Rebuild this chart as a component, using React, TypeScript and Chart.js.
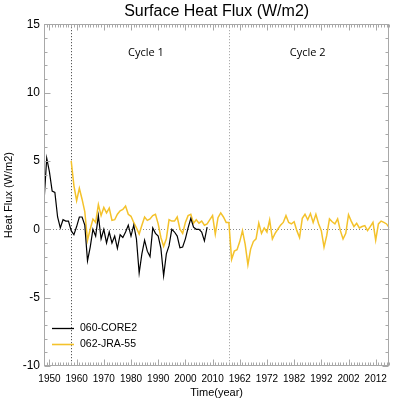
import React, { useEffect, useRef } from 'react';
import { Chart, registerables } from 'chart.js';

Chart.register(...registerables);

// ---- data (annual means, W/m2) ----
const core2StartYear = 1948;
const core2Values = [
  2.0, 5.2, 4.2, 2.8, 2.7, 0.9, 0.1, 0.7, 0.6, 0.6,
  -0.1, -0.4, 0.2, 0.9, 0.9, 0.3, -2.3, -1.3, 0.0, -0.5,
  1.0, -0.7, 0.0, -1.0, -0.2, -1.0, -0.5, -1.4, -0.4, -0.6,
  -0.2, 0.3, -0.5, 0.3, -0.7, -3.2, -1.8, -0.8, -1.6, -2.0,
  0.1, -0.3, -0.5, -1.4, -3.4, -1.8, -1.2, 0.0, -0.2, -0.5,
  -1.35, -1.3, -0.7, 0.1, 0.8, 0.15, 0.0, 0.0, -0.2, -0.85, 0.15,
];

const jraCycle1StartYear = 1958;
const jraCycle1Values = [
  5.0, 3.2, 2.1, 3.0, 2.2, 1.3, -0.8, 0.0, 0.75, 0.5,
  1.8, 1.0, 1.6, 1.2, 1.55, 0.65, 0.7, 1.1, 1.35, 1.45,
  1.7, 1.1, 0.95, 0.5, 0.1, -0.35, 0.3, 0.9, 0.65, 0.75,
  1.0, 1.1, 0.4, -0.6, -1.25, -0.7, 0.7, 0.6, 0.6, 0.9,
  0.0, -0.3, 0.5, 1.0, 1.1, 0.45, 0.7, 0.45, 0.6, 0.3,
  0.4, 0.7, 1.0, -0.35, 0.85, 1.2, 0.9, 0.5, 0.5,
];

// second forcing cycle, placed after cycle 1 on the continuous time axis
const jraCycle2StartYear = 2017;
const jraCycle2Values = [
  -2.2, -1.6, -1.5, -0.9, -0.1, -1.1, -2.6, -1.45, -0.9, -0.7,
  0.45, -0.3, 0.1, -0.2, 0.68, -0.71, -0.3, 0.0, 0.3, 0.5,
  1.0, 0.5, 0.4, 0.55, -0.1, -0.6, 0.8, 1.1, 0.7, 1.15,
  0.5, 1.1, 0.4, -0.1, -1.3, -0.45, 0.76, 0.55, 0.4, 0.76,
  -0.1, -0.71, -0.3, 1.07, 0.6, 0.2, 0.44, 0.1, 0.2, 0.27,
  -0.1, 0.2, 0.51, -0.8, 0.39, 0.6, 0.5, 0.39, 0.1,
];

const seriesNames = ['060-CORE2', '062-JRA-55'];
const seriesColors = ['#000000', '#F4C22B'];

const cycleStartYears = [1958, 2016];
const cycleLabels = ['Cycle 1', 'Cycle 2'];
const cycleLabelYears = [1985.5, 2045];
const cycleLabelValue = 12.9;

const xMin = 1948;
const xMax = 2075;
const xTickValues = [1950, 1960, 1970, 1980, 1990, 2000, 2010, 2020, 2030, 2040, 2050, 2060, 2070];
const xTickLabels = ['1950', '1960', '1970', '1980', '1990', '2000', '2010', '1962', '1972', '1982', '1992', '2002', '2012'];
const yMin = -10;
const yMax = 15;
const yStep = 5;

const FONT = '"Liberation Sans", Arial, Helvetica, sans-serif';

const toPoints = (start: number, vals: number[]) => vals.map((v, i) => ({ x: start + i, y: v }));

const decorPlugin = {
  id: 'decor',
  beforeDatasetsDraw(chart: any) {
    const { ctx, chartArea: a, scales } = chart;
    const x = scales.x;
    const y = scales.y;
    ctx.save();
    ctx.lineWidth = 1;
    // zero line
    ctx.strokeStyle = '#8a8a8a';
    ctx.setLineDash([1, 2]);
    const y0 = Math.round(y.getPixelForValue(0)) + 0.5;
    ctx.beginPath();
    ctx.moveTo(a.left, y0);
    ctx.lineTo(a.right, y0);
    ctx.stroke();
    // cycle boundaries
    cycleStartYears.forEach((yr, i) => {
      const px = Math.round(x.getPixelForValue(yr)) + 0.5;
      ctx.strokeStyle = i === 0 ? '#333333' : '#9a9a9a';
      ctx.setLineDash([1, 2]);
      ctx.beginPath();
      ctx.moveTo(px, a.top);
      ctx.lineTo(px, a.bottom);
      ctx.stroke();
    });
    ctx.restore();
  },
  afterDraw(chart: any) {
    const { ctx, chartArea: a, scales } = chart;
    const x = scales.x;
    const y = scales.y;
    ctx.save();
    ctx.lineWidth = 1;
    ctx.setLineDash([]);
    ctx.strokeStyle = '#a8a8a8';
    const L = Math.round(a.left) + 0.5;
    const R = Math.round(a.right) - 0.5;
    const T = Math.round(a.top) + 0.5;
    const B = Math.round(a.bottom) - 0.5;
    ctx.strokeRect(L, T, R - L, B - T);
    ctx.beginPath();
    // x ticks (every year minor, every 10 major) top & bottom
    for (let yr = Math.ceil(xMin); yr <= xMax; yr++) {
      const px = Math.round(x.getPixelForValue(yr)) + 0.5;
      const len = yr % 10 === 0 ? 6 : 3;
      ctx.moveTo(px, B);
      ctx.lineTo(px, B - len);
      ctx.moveTo(px, T);
      ctx.lineTo(px, T + len);
    }
    // y ticks (every 1 minor, every 5 major) left & right
    for (let v = yMin; v <= yMax; v++) {
      const py = Math.round(y.getPixelForValue(v)) + 0.5;
      const len = v % yStep === 0 ? 6 : 3;
      ctx.moveTo(L, py);
      ctx.lineTo(L + len, py);
      ctx.moveTo(R, py);
      ctx.lineTo(R - len, py);
    }
    ctx.stroke();

    // cycle labels
    ctx.fillStyle = '#000';
    ctx.font = '11px "Open Sans", "DejaVu Sans", sans-serif';
    ctx.textAlign = 'center';
    ctx.textBaseline = 'middle';
    cycleLabels.forEach((t, i) => {
      ctx.fillText(t, x.getPixelForValue(cycleLabelYears[i]), y.getPixelForValue(cycleLabelValue));
    });

    // legend
    ctx.font = '10.5px ' + FONT;
    ctx.textAlign = 'left';
    const lx0 = a.left + 8;
    const lx1 = a.left + 30;
    const rows = [a.bottom - 38, a.bottom - 22];
    seriesNames.forEach((name, i) => {
      ctx.strokeStyle = seriesColors[i];
      ctx.lineWidth = i === 0 ? 1.3 : 1.6;
      ctx.beginPath();
      ctx.moveTo(lx0, rows[i] + 0.5);
      ctx.lineTo(lx1, rows[i] + 0.5);
      ctx.stroke();
      ctx.fillStyle = '#000';
      ctx.fillText(name, a.left + 36, rows[i] + 0.5);
    });
    ctx.restore();
  },
};

export default function App() {
  const ref = useRef<HTMLCanvasElement | null>(null);
  useEffect(() => {
    document.body.style.margin = '0';
    const canvas = ref.current;
    if (!canvas) return;
    Chart.defaults.font.family = FONT;
    Chart.defaults.color = '#000';
    const chart = new Chart(canvas, {
      type: 'line',
      data: {
        datasets: [
          {
            label: seriesNames[0],
            data: toPoints(core2StartYear, core2Values),
            borderColor: seriesColors[0],
            borderWidth: 1.2,
            pointRadius: 0,
            tension: 0,
            order: 0,
          },
          {
            label: seriesNames[1],
            data: [
              ...toPoints(jraCycle1StartYear, jraCycle1Values),
              ...toPoints(jraCycle2StartYear, jraCycle2Values),
            ],
            borderColor: seriesColors[1],
            borderWidth: 1.5,
            pointRadius: 0,
            tension: 0,
            order: 1,
          },
        ],
      },
      options: {
        animation: false,
        responsive: false,
        devicePixelRatio: 1,
        layout: { padding: { left: 0, right: 3, top: 0, bottom: 0 } },
        plugins: {
          legend: { display: false },
          tooltip: { enabled: false },
          title: {
            display: true,
            text: 'Surface Heat Flux (W/m2)',
            fullSize: false,
            color: '#000',
            font: { size: 16, weight: 'normal', family: FONT },
            padding: { top: 2, bottom: 3 },
          },
        },
        scales: {
          x: {
            type: 'linear',
            min: xMin,
            max: xMax,
            grid: { display: false, drawTicks: false },
            border: { display: false },
            afterBuildTicks: (scale: any) => {
              scale.ticks = xTickValues.map((v) => ({ value: v }));
            },
            afterFit: (scale: any) => {
              scale.height = 35;
            },
            ticks: {
              autoSkip: false,
              maxRotation: 0,
              padding: 7,
              font: { size: 10 },
              color: '#000',
              callback: (_v: any, i: number) => xTickLabels[i],
            },
            title: {
              display: true,
              text: 'Time(year)',
              color: '#000',
              font: { size: 11 },
              padding: { top: 0, bottom: 1 },
            },
          },
          y: {
            type: 'linear',
            min: yMin,
            max: yMax,
            grid: { display: false, drawTicks: false },
            border: { display: false },
            afterFit: (scale: any) => {
              scale.width = 44;
            },
            ticks: {
              stepSize: yStep,
              padding: 4,
              font: { size: 12 },
              color: '#000',
            },
            title: {
              display: true,
              text: 'Heat Flux (W/m2)',
              color: '#000',
              font: { size: 11 },
              padding: { top: 2, bottom: 0 },
            },
          },
        },
      },
      plugins: [decorPlugin],
    } as any);
    return () => chart.destroy();
  }, []);
  return (
    <div style={{ width: 394, height: 401 }}>
      <canvas ref={ref} width={394} height={401} style={{ display: 'block' }} />
    </div>
  );
}
